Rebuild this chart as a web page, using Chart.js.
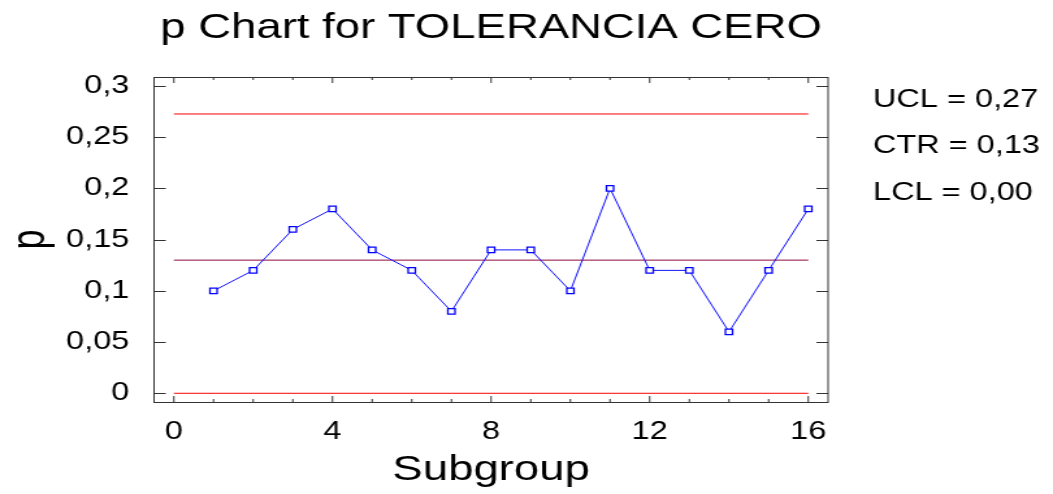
<!DOCTYPE html>
<html>
<head>
<meta charset="utf-8">
<script src="https://cdn.jsdelivr.net/npm/chart.js@4.4.1/dist/chart.umd.min.js"></script>
<style>
  html, body { margin: 0; padding: 0; background: #fff; overflow: hidden; }
  /* the source picture is stretched sideways, so the whole chart is too */
  #wrap { width: 810px; height: 494px; transform: scaleX(1.3); transform-origin: 0 0; }
</style>
</head>
<body>
<div id="wrap"><canvas id="myChart"></canvas></div>
<script>
const chartTitle = "p Chart for TOLERANCIA CERO";
const subgroups = [1, 2, 3, 4, 5, 6, 7, 8, 9, 10, 11, 12, 13, 14, 15, 16];
const proportions = [0.10, 0.12, 0.16, 0.18, 0.14, 0.12, 0.08, 0.14, 0.14, 0.10, 0.20, 0.12, 0.12, 0.06, 0.12, 0.18];
const limitValues = [0.2727, 0.13, 0];
const limitLabels = ["UCL = 0,27", "CTR = 0,13", "LCL = 0,00"];
const limitColors = ["#ff0000", "#8c0a40", "#ff0000"];
const limitRange = [0, 16];
const yTicks = [0, 0.05, 0.1, 0.15, 0.2, 0.25, 0.3];
const yTickLabels = ["0", "0,05", "0,1", "0,15", "0,2", "0,25", "0,3"];
const xTicks = [0, 4, 8, 12, 16];
const xTickLabels = ["0", "4", "8", "12", "16"];
const xMinorTicks = [0, 1, 2, 3, 4, 5, 6, 7, 8, 9, 10, 11, 12, 13, 14, 15, 16];

const FONT = "'Liberation Sans', Arial, sans-serif";

// frame, inward tick marks, title and the limit labels on the right
const framePlugin = {
  id: "frame",
  afterDraw(chart) {
    const { ctx, chartArea: a, scales } = chart;
    ctx.save();
    ctx.strokeStyle = "#333";
    ctx.lineWidth = 1;
    ctx.strokeRect(a.left, Math.round(a.top) + 0.5, a.right - a.left, Math.round(a.bottom - a.top));

    ctx.beginPath();
    yTicks.forEach((v) => {
      const y = Math.round(scales.y.getPixelForValue(v)) + 0.5;
      ctx.moveTo(a.left, y); ctx.lineTo(a.left + 9, y);
      ctx.moveTo(a.right, y); ctx.lineTo(a.right - 9, y);
    });
    xMinorTicks.forEach((v) => {
      const x = scales.x.getPixelForValue(v);
      const len = xTicks.includes(v) ? 6 : 3;
      ctx.moveTo(x, a.bottom); ctx.lineTo(x, a.bottom - len);
      ctx.moveTo(x, a.top); ctx.lineTo(x, a.top + len);
    });
    ctx.stroke();

    ctx.fillStyle = "#000";
    ctx.textBaseline = "middle";
    ctx.textAlign = "center";
    ctx.font = "35px " + FONT;
    ctx.fillText(chartTitle, (a.left + a.right) / 2, 28);

    ctx.textAlign = "left";
    ctx.font = "25px " + FONT;
    limitLabels.forEach((t, i) => {
      ctx.fillText(t, 671.5, 100 + i * 46.5);
    });
    ctx.restore();
  },
};

const ctx = document.getElementById("myChart");

const limitSets = limitValues.map((v, i) => ({
  data: limitRange.map((x) => ({ x: x, y: v })),
  borderColor: limitColors[i],
  borderWidth: 1,
  pointRadius: 0,
}));

new Chart(ctx, {
  type: "line",
  data: {
    datasets: [
      {
        data: subgroups.map((s, i) => ({ x: s, y: proportions[i] })),
        borderColor: "#1010ff",
        borderWidth: 1,
        pointStyle: "rect",
        pointRadius: 3.9,
        pointBorderWidth: 1.3,
        pointBorderColor: "#0000ff",
        pointBackgroundColor: "#fff",
        tension: 0,
      },
      ...limitSets,
    ],
  },
  options: {
    responsive: true,
    maintainAspectRatio: false,
    animation: false,
    layout: { padding: { top: 77, right: 173, left: 0, bottom: 0 } },
    plugins: {
      legend: { display: false },
      tooltip: { enabled: false },
      title: { display: false },
    },
    scales: {
      x: {
        type: "linear",
        min: -0.5,
        max: 16.5,
        grid: { display: false },
        border: { display: false },
        afterBuildTicks: (s) => { s.ticks = xTicks.map((v) => ({ value: v })); },
        afterFit: (s) => { s.height = 92; },
        ticks: {
          color: "#000",
          font: { family: FONT, size: 25 },
          padding: 7,
          maxRotation: 0,
          autoSkip: false,
          callback: (v) => xTickLabels[xTicks.indexOf(v)],
        },
        title: {
          display: true,
          text: "Subgroup",
          color: "#000",
          font: { family: FONT, size: 35 },
          padding: { top: 3, bottom: 3 },
        },
      },
      y: {
        min: -0.0085,
        max: 0.3088,
        grid: { display: false },
        border: { display: false },
        afterBuildTicks: (s) => { s.ticks = yTicks.map((v) => ({ value: v })); },
        afterFit: (s) => { s.width = 118.5; },
        ticks: {
          color: "#000",
          font: { family: FONT, size: 25 },
          padding: 11,
          autoSkip: false,
          callback: (v) => yTickLabels[yTicks.indexOf(v)],
        },
        title: {
          display: true,
          text: "p",
          color: "#000",
          font: { family: FONT, size: 36 },
          padding: { top: 2, bottom: 2 },
        },
      },
    },
  },
  plugins: [framePlugin],
});
</script>
</body>
</html>
